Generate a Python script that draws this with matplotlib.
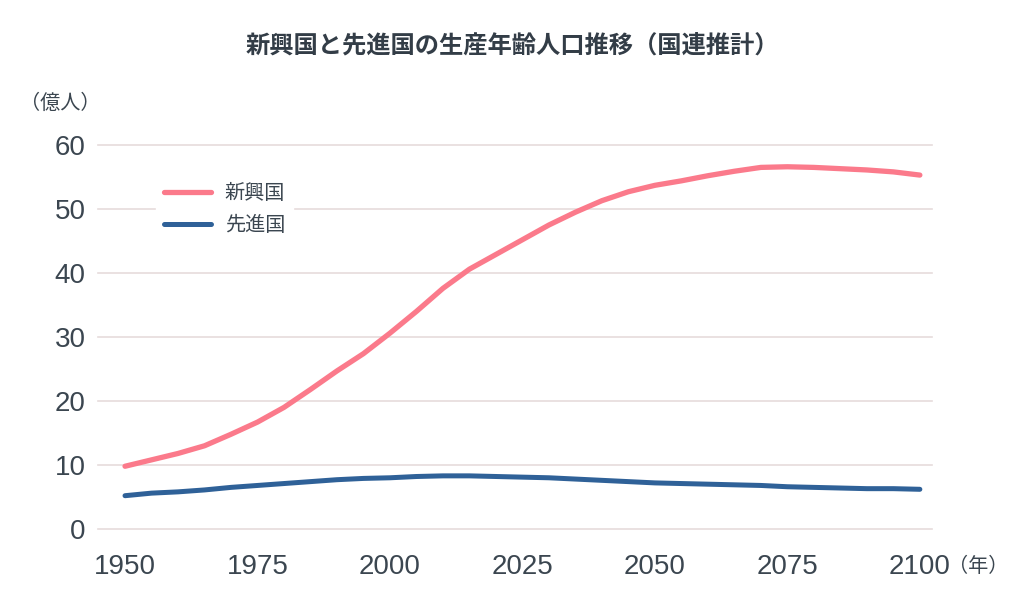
import matplotlib
matplotlib.use("Agg")
import matplotlib.pyplot as plt

# 国連推計（億人）
years = list(range(1950, 2101, 5))
emerging = [9.8, 10.8, 11.8, 13.0, 14.8, 16.7, 19.0, 21.8, 24.7, 27.4, 30.6,
            34.0, 37.6, 40.6, 42.9, 45.2, 47.5, 49.5, 51.3, 52.7, 53.7, 54.4,
            55.2, 55.9, 56.5, 56.6, 56.5, 56.3, 56.1, 55.8, 55.3]
developed = [5.2, 5.6, 5.8, 6.1, 6.5, 6.8, 7.1, 7.4, 7.7, 7.9, 8.0,
             8.2, 8.3, 8.3, 8.2, 8.1, 8.0, 7.8, 7.6, 7.4, 7.2, 7.1,
             7.0, 6.9, 6.8, 6.6, 6.5, 6.4, 6.3, 6.3, 6.2]
x_ticks = [1950, 1975, 2000, 2025, 2050, 2075, 2100]
y_ticks = [0, 10, 20, 30, 40, 50, 60]

JP = ["Noto Sans CJK JP", "DejaVu Sans"]
NUM = ["Liberation Sans", "DejaVu Sans"]
INK = "#3b4650"
PINK = "#fb7a8b"
BLUE = "#2f6198"
GRID = "#e6dcdc"

fig = plt.figure(figsize=(10.24, 6.09), dpi=100, facecolor="white")
ax = fig.add_axes([0.0957, 0.1314, 0.8145, 0.6305])

ax.plot(years, emerging, color=PINK, linewidth=3.8, solid_capstyle="round",
        solid_joinstyle="round", label="新興国", zorder=3)
ax.plot(years, developed, color=BLUE, linewidth=3.6, solid_capstyle="round",
        solid_joinstyle="round", label="先進国", zorder=3)

ax.set_xlim(1944.9, 2102.3)
ax.set_ylim(0, 60)
ax.set_xticks(x_ticks)
ax.set_yticks(y_ticks)
ax.set_xticklabels([str(v) for v in x_ticks], family=NUM, fontsize=20, color=INK)
ax.set_yticklabels([str(v) for v in y_ticks], family=NUM, fontsize=20, color=INK)
ax.tick_params(axis="both", length=0)
ax.tick_params(axis="x", pad=18)
ax.tick_params(axis="y", pad=9)
for s in ax.spines.values():
    s.set_visible(False)
ax.grid(axis="y", color=GRID, linewidth=1.2, clip_on=False)
ax.set_axisbelow(True)

leg = ax.legend(loc="upper left", bbox_to_anchor=(0.058, 0.948), frameon=True,
                prop={"family": JP, "size": 14.5}, handlelength=2.3,
                handletextpad=0.7, labelspacing=0.55, borderpad=0.4)
leg.get_frame().set_facecolor("white")
leg.get_frame().set_edgecolor("white")
leg.get_frame().set_alpha(1)
for t in leg.get_texts():
    t.set_color(INK)

fig.text(0.5, 0.925, "新興国と先進国の生産年齢人口推移（国連推計）", ha="center",
         va="center", family=JP, fontsize=17.5, fontweight="bold", color="#333d47")
fig.text(0.059, 0.83, "（億人）", ha="center", va="center", family=JP,
         fontsize=14.5, color=INK)
fig.text(0.955, 0.07, "（年）", ha="center", va="center", family=JP,
         fontsize=14.5, color=INK)

fig.savefig("out.png", dpi=100, facecolor="white")
